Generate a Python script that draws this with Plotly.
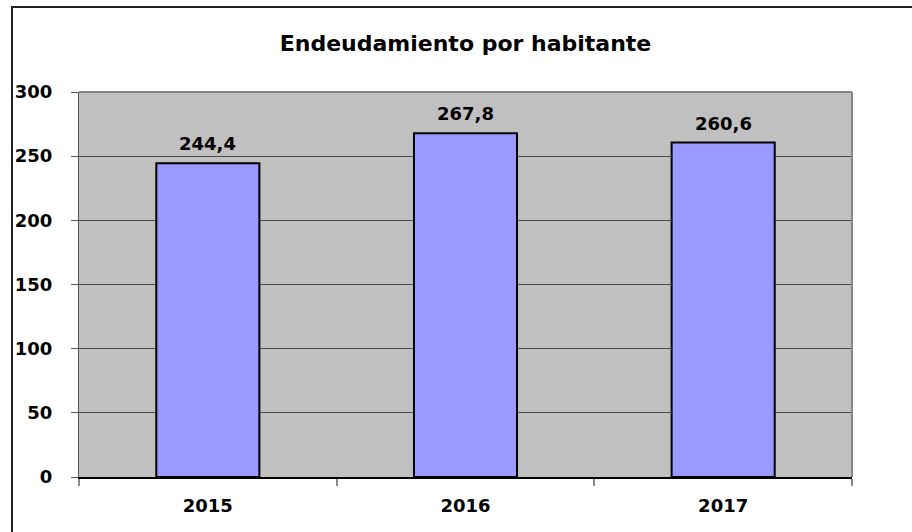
import plotly.graph_objects as go

categories = ["2015", "2016", "2017"]
values = [244.4, 267.8, 260.6]
y_ticks = [0, 50, 100, 150, 200, 250, 300]
title_text = "Endeudamiento por habitante"

labels = [f"{v:.1f}".replace(".", ",") for v in values]

FONT = "DejaVu Sans"

fig = go.Figure()
fig.add_trace(go.Bar(
    x=categories, y=values,
    marker=dict(color="#9999FF", line=dict(color="#000000", width=2)),
    width=0.4,
    hoverinfo="skip",
))

for i, (v, t) in enumerate(zip(values, labels)):
    fig.add_annotation(x=i, y=v, text=f"<b>{t}</b>", showarrow=False,
                       yanchor="bottom", yshift=7,
                       font=dict(family=FONT, size=18, color="#000000"))

L, R, T, B = 79, 852, 92, 477
W, H = 912, 532
pw, ph = R - L, B - T

def px_x(px):
    return (px - L) / pw

def px_y(py):
    return (B - py) / ph

# outer chart border (extends beyond the visible crop on right/bottom)
fig.add_shape(type="rect", xref="paper", yref="paper",
              x0=px_x(12), x1=px_x(W + 20), y0=px_y(H + 20), y1=px_y(7),
              line=dict(color="#222222", width=2), layer="below")
# plot area top/right grey border
fig.add_shape(type="line", xref="paper", yref="paper",
              x0=0, x1=1, y0=1, y1=1, line=dict(color="#888888", width=2))
fig.add_shape(type="line", xref="paper", yref="paper",
              x0=1, x1=1, y0=0, y1=1, line=dict(color="#888888", width=2))

fig.update_layout(
    width=W, height=H,
    margin=dict(l=L, r=W - R, t=T, b=H - B, pad=0),
    paper_bgcolor="#FFFFFF",
    plot_bgcolor="#C0C0C0",
    showlegend=False,
    title=dict(text=f"<b>{title_text}</b>", x=(L + R) / 2 / W, xanchor="center",
               y=1 - 43 / H, yanchor="middle",
               font=dict(family=FONT, size=22, color="#000000")),
    xaxis=dict(
        type="category",
        showline=True, linecolor="#000000", linewidth=2,
        ticks="outside", tickson="boundaries", ticklen=7, tickcolor="#888888", tickwidth=2,
        tickfont=dict(family=FONT, size=18, color="#000000", weight="bold"),
        ticklabelstandoff=11,
        showgrid=False,
        fixedrange=True,
    ),
    yaxis=dict(
        range=[0, 300], tickvals=y_ticks,
        showline=True, linecolor="#555555", linewidth=1,
        ticks="outside", ticklen=7, tickcolor="#555555", tickwidth=1,
        tickfont=dict(family=FONT, size=18, color="#000000", weight="bold"),
        ticklabelstandoff=15,
        showgrid=True, gridcolor="#4a4a4a", gridwidth=1,
        zeroline=False,
        fixedrange=True,
    ),
)

fig.write_html("out.html", config={"displayModeBar": False},
               post_script="document.body.style.margin='0';")
